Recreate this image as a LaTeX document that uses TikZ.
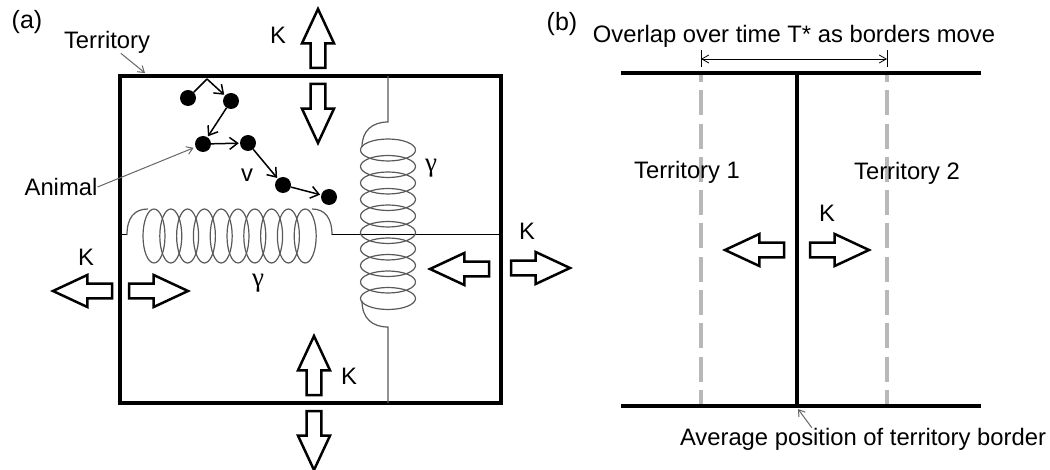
\documentclass[tikz,border=0pt]{standalone}
\usepackage{fontspec}
\setmainfont{Liberation Sans}
\newfontfamily\greekfont{Liberation Serif}
\usetikzlibrary{arrows.meta,shapes.arrows}
\definecolor{coilgray}{gray}{0.35}
\definecolor{leadgray}{gray}{0.4}
\definecolor{dashgray}{gray}{0.72}
\begin{document}
\begin{tikzpicture}[x=1pt,y=-1pt,
            label/.style={inner sep=0pt,font=\fontsize{23.8}{26}\selectfont},
            panel/.style={inner sep=0pt,font=\fontsize{25}{28}\selectfont},
            greek/.style={inner sep=0pt,font=\greekfont\fontsize{27}{28}\selectfont},
            wall/.style={draw,line width=4pt,inner sep=0pt,minimum width=381pt,minimum height=327pt},
            heavy/.style={line width=4pt},
            blockarrow/.style={draw,line width=2.5pt,single arrow,inner sep=0pt,outer sep=0pt,anchor=tail,
              minimum height=59pt,minimum width=32pt,single arrow head extend=1.5pt,
              single arrow tip angle=50,single arrow head indent=0pt},
            animal/.style={circle,fill=black,inner sep=0pt,minimum size=16pt},
            walk/.style={line width=1.5pt,-{Straight Barb[length=8pt,width=12pt]},shorten >=1pt},
            lead/.style={draw=leadgray,line width=1pt,-{Straight Barb[length=6pt,width=8pt]}},
            coil/.style={draw=coilgray,line width=1.2pt}]
        \useasboundingbox (0,0) rectangle (1050,470);
        % panel (a)
        \node[wall] (territory) at (310.5,239.5) {};
        \node[panel] (lbA) at (27,22) {(a)};
        \node[label] (lbTerritory) at (107,42) {Territory};
        \node[label] (lbAnimal) at (61,187) {Animal};
        \coordinate (territoryEdge) at (145,73);
        \draw[lead] (lbTerritory) -- (territoryEdge);
        % walk of the animal
        \node[animal] (dot1) at (188,98) {};
        \node[animal] (dot2) at (231,101) {};
        \node[animal] (dot3) at (203,144) {};
        \node[animal] (dot4) at (248,143) {};
        \node[animal] (dot5) at (283,185) {};
        \node[animal] (dot6) at (329,197) {};
        \coordinate (peak) at (207,79);
        \draw[line width=1.5pt] (dot1) -- (peak);
        \draw[walk] (peak) -- (dot2);
        \draw[walk] (dot2) -- (dot3);
        \draw[walk] (dot3) -- (dot4);
        \draw[walk] (dot4) -- (dot5);
        \draw[walk] (dot5) -- (dot6);
        \draw[lead,shorten >=2pt] (lbAnimal.east) -- (dot3);
        \node[label] (lbV) at (247,175) {v};
        % springs
        \coordinate (hWall) at (120,235);
        \coordinate (hEnd) at (501,235);
        \coordinate (vTop) at (388,76);
        \coordinate (vEnd) at (388,403);
        \draw[line width=1pt] (hWall) -- (127,235);
        \draw[coil] (127,235) .. controls (127,218) and (134,209) .. (148,209);
        \draw[coil] (312,209) .. controls (325,209) and (332,218) .. (332,235);
        \draw[line width=1pt] (332,235) -- (hEnd);
        \foreach \i in {0,...,9}
          \draw[coil] (154+16.8*\i,236) ellipse (11pt and 27pt);
        \draw[coil] (vTop) -- (388,122) .. controls (372,122) and (362,131) .. (362,147);
        \draw[coil] (362,301) .. controls (362,318) and (372,327) .. (388,327) -- (vEnd);
        \foreach \i in {0,...,9}
          \draw[coil] (388,150+16.5*\i) ellipse (27.5pt and 11pt);
        \node[greek] (gammaH) at (258,283) {γ};
        \node[greek] (gammaV) at (431,168) {γ};
        % boundary arrows
        \node[blockarrow,rotate=90] (topOut) at (318,68) {};
        \node[blockarrow,rotate=-90] (topIn) at (318,84) {};
        \node[blockarrow,rotate=180] (rightIn) at (489,269) {};
        \node[blockarrow] (rightOut) at (511,268) {};
        \node[blockarrow,rotate=180] (leftOut) at (112,291) {};
        \node[blockarrow] (leftIn) at (129,291) {};
        \node[blockarrow,rotate=90] (bottomIn) at (314,395) {};
        \node[blockarrow,rotate=-90] (bottomOut) at (314,411) {};
        \node[label] (kTop) at (278,35) {K};
        \node[label] (kRight) at (527,231) {K};
        \node[label] (kLeft) at (86,257) {K};
        \node[label] (kBottom) at (349,376) {K};
        % panel (b)
        \node[panel] (lbB) at (562,24) {(b)};
        \coordinate (upperL) at (621,73);
        \coordinate (upperR) at (981,73);
        \coordinate (lowerL) at (621,406);
        \coordinate (lowerR) at (981,406);
        \coordinate (midUp) at (797,73);
        \coordinate (midLow) at (797,406);
        \foreach \x in {701,887}
          \draw[dashgray,line width=4pt,dash pattern=on 25pt off 8.3pt,dash phase=18pt] (\x,75) -- (\x,404);
        \draw[heavy] (upperL) -- (upperR);
        \draw[heavy] (lowerL) -- (lowerR);
        \draw[heavy] (midUp) -- (midLow);
        \coordinate (spanL) at (701,59);
        \coordinate (spanR) at (887,59);
        \draw[line width=0.8pt] (701,50) -- (701,67);
        \draw[line width=0.8pt] (887,50) -- (887,67);
        \draw[line width=0.8pt,{Straight Barb[length=7pt,width=8pt]}-{Straight Barb[length=7pt,width=8pt]}] (spanL) -- (spanR);
        \node[label] (lbOverlap) at (794,36) {Overlap over time T* as borders move};
        \node[label] (lbOne) at (687,172) {Territory 1};
        \node[label] (lbTwo) at (907,173) {Territory 2};
        \node[label] (kB) at (827,213) {K};
        \node[blockarrow,rotate=180] (moveL) at (784,250) {};
        \node[blockarrow] (moveR) at (810,250) {};
        \node[label] (lbAverage) at (863,439) {Average position of territory border};
        \coordinate (avgTip) at (798,409);
        \draw[lead] ([xshift=132pt]lbAverage.north west) -- (avgTip);
\end{tikzpicture}
\end{document}
